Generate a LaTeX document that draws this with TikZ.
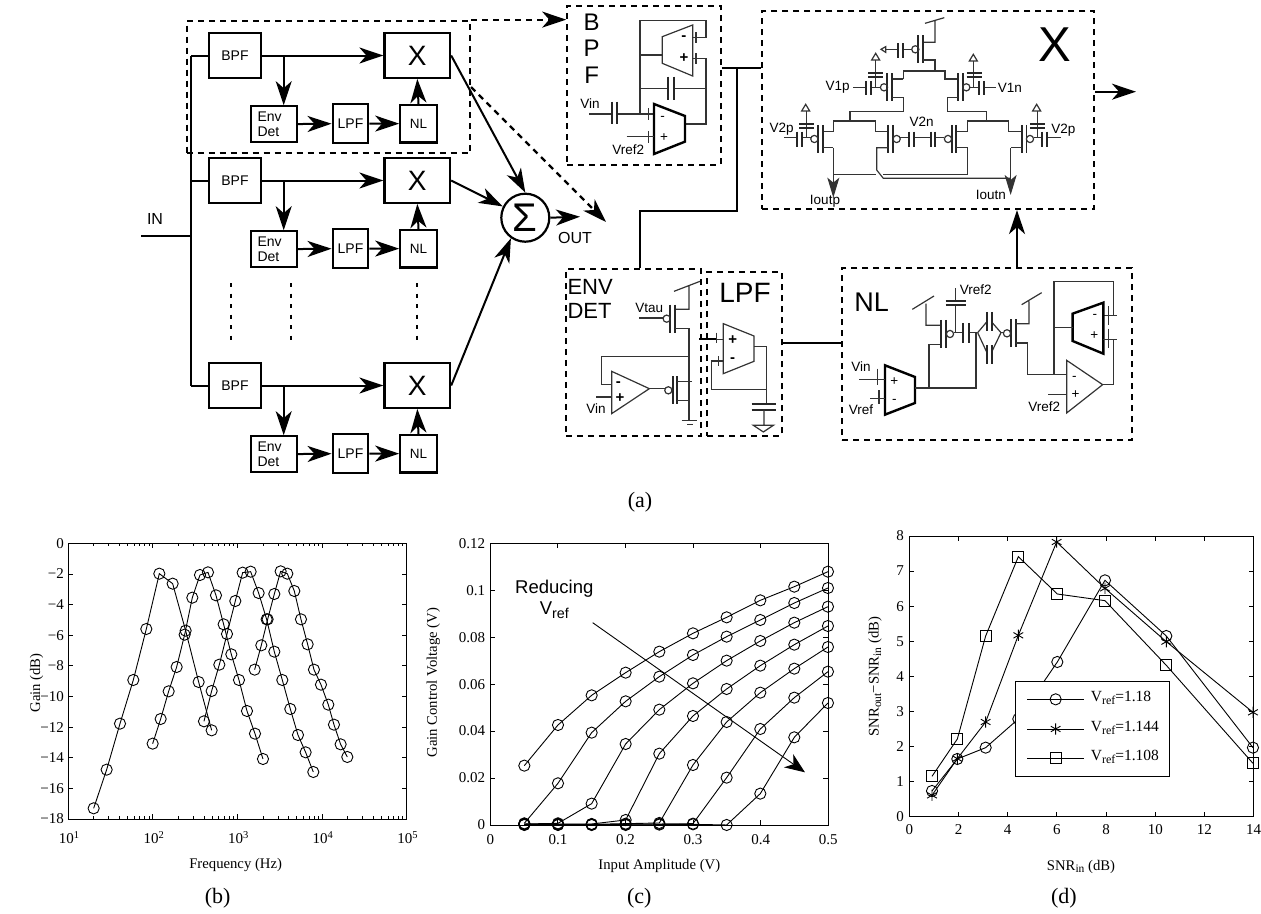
\documentclass[tikz,border=0pt]{standalone}
\usepackage{fontspec}
\setmainfont{Liberation Serif}
\setsansfont{Liberation Sans}
\usetikzlibrary{arrows.meta,plotmarks}

\newcommand{\fsz}[1]{\fontsize{#1}{1.12\dimexpr#1pt\relax}\selectfont}
\newcommand{\lowtxt}[2]{\raisebox{-0.4ex}{\fsz{#1}#2}}
\newcommand{\vcap}[4]{\draw[plate] (#1,#3) -- (#1,#4) (#2,#3) -- (#2,#4);}
\newcommand{\hcap}[4]{\draw[plate] (#3,#1) -- (#4,#1) (#3,#2) -- (#4,#2);}
\newcommand{\pfet}[4]{\draw[plate] (#1,#3-42) -- (#1,#3+42) (#2,#3-42) -- (#2,#3+42);
  \draw[cct] (#4,#3) circle[radius=3.6pt];}
\newcommand{\railtip}[2]{\draw[cct] (#1,#2) -- (#1-12,#2+20) -- (#1+12,#2+20) -- cycle;}
\newcommand{\trace}[2]{\draw[trc, mark=#1] plot coordinates {#2};}

\begin{document}
\begin{tikzpicture}[x=1pt, y=-1pt,
  rowbox/.style={draw, line width=2.3pt, inner sep=0pt, font=\sffamily\fsz{14}, align=left},
  wire/.style={line width=2pt},
  wirearr/.style={line width=2pt, -{Stealth[length=24pt,width=16pt,inset=7pt]}},
  dashbox/.style={line width=2.2pt, dash pattern=on 6pt off 5pt, inner sep=0pt},
  dasharr/.style={line width=2.2pt, dash pattern=on 6pt off 5pt, -{Stealth[length=24pt,width=16pt,inset=7pt]}},
  cct/.style={line width=1.2pt, black!80},
  plate/.style={line width=1.7pt, black!85},
  amp/.style={line width=2.4pt},
  cctarr/.style={cct, -{Stealth[length=20pt,width=12pt,inset=5pt]}},
  clbl/.style={font=\sffamily\fsz{13.5}, inner sep=0pt},
  sgn/.style={font=\sffamily\bfseries\fsz{15}, inner sep=0pt},
  bigl/.style={font=\sffamily\fsz{24}, inner sep=0pt},
  axs/.style={line width=0.9pt},
  trc/.style={line width=0.9pt, mark size=5.6pt},
  ticklbl/.style={font=\fsz{15}, inner sep=0pt},
  axlbl/.style={font=\fsz{14.7}, inner sep=0pt},
  sublbl/.style={font=\fsz{22}, inner sep=0pt}]
\useasboundingbox (0,0) rectangle (1261,913);

% block rows
\coordinate (bustop) at (191,55.5);
\coordinate (busbot) at (191,385.5);
\draw[wire] (bustop) -- (busbot);
\node[inner sep=0pt, font=\sffamily\fsz{16}] (inlbl) at (155,219) {IN};
\coordinate (instart) at (141,236);
\draw[wire] (instart) -- (instart -| bustop);
\node[draw, circle, line width=2.2pt, minimum size=48pt, inner sep=0pt, font=\sffamily\fsz{40}] (sum) at (525.3,217.7) {Σ};
\foreach \r/\dy in {a/0,b/125,c/330} {
  \node[rowbox, minimum width=52pt, minimum height=44.5pt] (bpf\r) at (235,55.5+\dy) {BPF};
  \node[rowbox, minimum width=65.5pt, minimum height=44.5pt, font=\sffamily\fsz{28}] (x\r) at (417.3,55.5+\dy) {X};
  \node[rowbox, minimum width=45.7pt, minimum height=36pt, text width=33pt] (env\r) at (274,124.3+\dy) {Env\\Det};
  \node[rowbox, minimum width=35.6pt, minimum height=39.6pt] (lpf\r) at (350.5,123.5+\dy) {LPF};
  \node[rowbox, minimum width=36.4pt, minimum height=37.3pt, font=\sffamily\fsz{13.5}] (nl\r) at (418.5,123.7+\dy) {NL};
  \coordinate (tap\r) at (283.7,55.5+\dy);
  \draw[wire] (bpf\r.west) -- (bpf\r.west -| bustop);
  \draw[wirearr] (bpf\r.east) -- (x\r.west);
  \draw[wirearr] (tap\r) -- (tap\r |- env\r.north);
  \draw[wirearr] (env\r) -- (lpf\r);
  \draw[wirearr] (lpf\r) -- (nl\r);
  \draw[wirearr] (nl\r.north) -- (x\r.south);
}
\draw[wirearr] (xa.east) -- (sum.north);
\draw[wirearr] (xb.east) -- (sum);
\draw[wirearr] (xc.east) -- (sum.-125);
\coordinate (outend) at (580,216.7);
\draw[wirearr] (sum.east) -- (outend);
\node[inner sep=0pt, font=\sffamily\fsz{16}] (outlbl) at (575,238) {OUT};
\foreach \i/\xx/\yy in {1/230.7/343,2/291/343,3/417.3/344} {
  \coordinate (dots\i) at (\xx,283);
  \draw[line width=2.2pt, dash pattern=on 4pt off 6.5pt] (dots\i) -- (\xx,\yy);
}

% dashed detail frames
\node[dashbox, draw, minimum width=283.3pt, minimum height=132.6pt] (zoomrow) at (328.3,87) {};
\node[dashbox, draw, minimum width=153.4pt, minimum height=158.7pt] (bpfbox) at (644,85.3) {};
\node[dashbox, draw, minimum width=332pt, minimum height=198pt] (xbox) at (928.3,110) {};
\node[dashbox, draw, minimum width=134.7pt, minimum height=167.3pt] (envbox) at (633.3,352.3) {};
\node[dashbox, draw, minimum width=74.4pt, minimum height=164pt] (lpfbox) at (744.5,354) {};
\node[dashbox, draw, minimum width=290pt, minimum height=172pt] (nlbox) at (987.3,354) {};
\coordinate (dashend) at (606,222);
\draw[dasharr] (zoomrow.north east) -- (zoomrow.north east -| bpfbox.west);
\draw[dasharr] (zoomrow.east) -- (dashend);

% links between frames
\coordinate (bpftap) at (737,67.7);
\coordinate (envdrop) at (640,211);
\coordinate (lpfout) at (781,343);
\coordinate (nlup) at (1017,268);
\coordinate (xout) at (1136,91.7);
\draw[wire] (bpftap -| bpfbox.east) -- (bpftap -| xbox.west);
\draw[wire] (bpftap) |- (envdrop) -- (envdrop |- envbox.north);
\draw[wire] (lpfout) -- (lpfout -| nlbox.west);
\draw[wirearr] (nlup) -- (nlup |- xbox.south);
\draw[wirearr] (xbox.east |- xout) -- (xout);

% bpf circuit
\begin{scope}[shift={(560,0)}, x=0.3333pt, y=-0.3333pt]
\node[bigl] (blb) at (95,68) {B};
\node[bigl] (plb) at (95,145) {P};
\node[bigl] (flb) at (95,225) {F};
\node[clbl] (vinb) at (90,312) {Vin};
\node[clbl] (vrefb) at (205,450) {Vref2};
\draw[cct] (88,342) -- (155,342) (172,342) -- (282,342);
\vcap{155}{172}{305}{372}
\draw[cct] (240,342) -- (240,62) -- (438,62) -- (438,113) -- (398,113);
\draw[cct] (240,165) -- (307,165);
\draw[cct] (307,110) -- (398,75) -- (398,228) -- (307,190) -- cycle;
\draw[cct] (398,175) -- (438,175) -- (438,372) -- (378,372);
\draw[cct] (408,97) -- (408,128) (408,160) -- (408,192);
\draw[cct] (240,265) -- (325,265) (342,265) -- (438,265);
\vcap{325}{342}{230}{300}
\draw[amp] (282,312) -- (375,348) -- (375,425) -- (282,462) -- cycle;
\draw[cct] (200,410) -- (282,410) (265,325) -- (265,360) (265,393) -- (265,428);
\node[sgn] (bm1) at (372,115) {-};
\node[sgn] (bp1) at (372,175) {+};
\node[clbl] (bm2) at (308,354) {-};
\node[clbl] (bp2) at (312,412) {+};
\end{scope}

% multiplier circuit
\begin{scope}[shift={(755,5)}, x=0.3333pt, y=-0.3333pt]
\node[font=\sffamily\fsz{49}, inner sep=0pt] (xlb) at (900,118) {X};
\draw[cct] (510,55) -- (568,38) (540,48) -- (540,112) -- (505,112);
\pfet{490}{505}{133}{481}
\draw[cct] (505,165) -- (540,165) -- (540,198);
\draw[cct] (470,133) -- (445,133) (430,133) -- (392,133);
\vcap{430}{445}{115}{158}
\draw[cct] (378,133) -- (392,125) -- (392,142) -- cycle;
% upper pair
\draw[cct] (445,222) -- (445,198) -- (570,198) -- (570,222) -- (610,222);
\draw[cct] (445,222) -- (412,222);
\pfet{397}{412}{247}{387}
\pfet{625}{610}{247}{634}
\draw[cct] (412,277) -- (445,277) -- (445,320) -- (285,320) -- (285,348);
\draw[cct] (610,277) -- (578,277) -- (578,320) -- (695,320) -- (695,348);
\draw[cct] (295,247) -- (333,247) (347,247) -- (376,247) (645,247) -- (673,247) (688,247) -- (722,247);
\vcap{333}{347}{228}{270}
\vcap{673}{688}{228}{270}
\draw[cct] (362,247) -- (362,165) (655,247) -- (655,168);
\hcap{204}{215}{340}{385}
\hcap{204}{215}{635}{680}
\railtip{362}{145}
\railtip{655}{148}
% lower pairs
\draw[cct] (203,380) -- (235,380) -- (235,348) -- (362,348) -- (362,380) -- (400,380);
\draw[cct] (603,380) -- (637,380) -- (637,348) -- (760,348) -- (760,380) -- (800,380);
\pfet{188}{203}{402}{178}
\pfet{415}{400}{402}{425}
\pfet{590}{603}{402}{579}
\pfet{815}{800}{402}{825}
\draw[cct] (88,398) -- (127,398) (140,398) -- (167,398);
\vcap{127}{140}{380}{425}
\draw[cct] (155,398) -- (155,318);
\hcap{356}{368}{132}{178}
\railtip{152}{298}
\draw[cct] (436,398) -- (462,398) (476,398) -- (527,398) (540,398) -- (568,398);
\vcap{462}{476}{380}{425}
\vcap{527}{540}{380}{425}
\draw[cct] (836,398) -- (862,398) (877,398) -- (917,398);
\vcap{862}{877}{380}{425}
\draw[cct] (848,398) -- (848,318);
\hcap{356}{368}{825}{870}
\railtip{845}{298}
\draw[cct] (400,428) -- (365,428) -- (365,495) -- (385,520) -- (767,520);
\draw[cct] (235,508) -- (362,508) (385,508) -- (637,508) -- (637,428) -- (603,428);
\draw[cct] (203,428) -- (235,428);
\draw[cct] (800,428) -- (767,428);
\draw[cctarr] (235,428) -- (235,578);
\draw[cctarr] (767,428) -- (767,570);
\node[clbl] (v1p) at (248,248) {V1p};
\node[clbl] (v1n) at (765,250) {V1n};
\node[clbl] (v2pa) at (80,372) {V2p};
\node[clbl] (v2pb) at (925,375) {V2p};
\node[clbl] (v2n) at (500,350) {V2n};
\node[clbl] (ioutp) at (210,588) {Ioutp};
\node[clbl] (ioutn) at (708,570) {Ioutn};
\end{scope}

% env det and lpf circuits
\begin{scope}[shift={(560,262)}, x=0.3333pt, y=-0.3333pt]
\node[font=\sffamily\fsz{22}, inner sep=0pt, anchor=west] (envlb) at (22,75) {ENV};
\node[font=\sffamily\fsz{22}, inner sep=0pt, anchor=west] (detlb) at (22,148) {DET};
\node[font=\sffamily\fsz{28}, inner sep=0pt] (lpflb) at (555,92) {LPF};
\draw[cct] (342,88) -- (420,58) (387,72) -- (387,142) -- (345,142);
\pfet{330}{345}{170}{320}
\draw[cct] (238,168) -- (309,168);
\node[clbl] (vtau) at (268,138) {Vtau};
\draw[cct] (345,200) -- (387,200) -- (387,475);
\draw[cct] (387,283) -- (125,283) -- (125,368) -- (155,368);
\draw[cct] (155,328) -- (268,380) -- (155,455) -- cycle;
\node[sgn] (em) at (175,365) {-};
\node[sgn] (ep) at (180,408) {+};
\draw[cct] (108,405) -- (155,405);
\node[clbl] (vine) at (108,440) {Vin};
\draw[cct] (268,380) -- (314,380);
\pfet{338}{352}{385}{325}
\draw[cct] (352,358) -- (395,358) (352,415) -- (387,415);
\draw[cct] (365,475) -- (412,475) (382,488) -- (398,488);
\draw[wire] (418,232) -- (470,232);
\draw[cct] (470,232) -- (490,232) (470,212) -- (470,242) (475,283) -- (475,312);
\draw[cct] (490,185) -- (582,222) -- (582,298) -- (490,335) -- cycle;
\node[sgn] (lp) at (518,235) {+};
\node[sgn] (lm) at (518,295) {-};
\draw[cct] (490,297) -- (455,297) -- (455,383) -- (622,383);
\draw[cct] (582,254) -- (620,254) -- (620,427);
\hcap{427}{443}{575}{648}
\draw[cct] (612,443) -- (612,490) (580,490) -- (640,490) -- (610,510) -- cycle;
\end{scope}

% nl circuit
\begin{scope}[shift={(835,262)}, x=0.3333pt, y=-0.3333pt]
\node[font=\sffamily\fsz{27}, inner sep=0pt] (nllb) at (110,122) {NL};
\draw[amp] (150,310) -- (240,345) -- (240,423) -- (150,458) -- cycle;
\node[clbl] (vinn) at (78,315) {Vin};
\node[clbl] (vrefn) at (78,442) {Vref};
\node[clbl] (nplus) at (178,358) {+};
\node[clbl] (nminus) at (178,418) {-};
\draw[cct] (72,352) -- (150,352) (128,320) -- (128,370) (105,410) -- (150,410) (132,385) -- (132,425);
\draw[cct] (240,378) -- (423,378) -- (423,212) -- (402,212);
\draw[cct] (282,378) -- (282,248) -- (318,248);
\draw[cct] (232,142) -- (297,102) (273,125) -- (273,190) -- (318,190);
\pfet{333}{318}{216}{345}
\draw[cct] (356,212) -- (385,212);
\vcap{385}{402}{183}{242}
\draw[cct] (362,212) -- (362,130) (362,118) -- (362,78);
\hcap{118}{130}{332}{392}
\node[clbl] (vrefa) at (422,82) {Vref2};
\draw[cct] (428,212) -- (455,180) (470,180) -- (498,212) -- (470,270) (455,270) -- (428,212);
\vcap{455}{470}{150}{207}
\vcap{455}{470}{250}{305}
\draw[cct] (498,212) -- (505,212);
\pfet{528}{543}{214}{516}
\draw[cct] (560,128) -- (620,92) (582,118) -- (582,185) -- (543,185);
\draw[cct] (543,243) -- (578,243) -- (578,338) -- (695,338);
\draw[cct] (657,338) -- (657,58) -- (835,58) -- (835,160) -- (803,160);
\draw[amp] (713,155) -- (805,122) -- (805,275) -- (713,237) -- cycle;
\node[clbl] (nm2) at (780,162) {-};
\node[clbl] (np2) at (778,222) {+};
\draw[cct] (820,133) -- (820,188) (820,200) -- (820,258) (835,160) -- (845,160) (803,232) -- (845,232);
\draw[cct] (835,232) -- (835,368) -- (803,368);
\draw[cct] (713,197) -- (657,197);
\draw[cct] (695,295) -- (803,368) -- (695,453) -- cycle;
\node[clbl] (nm3) at (718,350) {-};
\node[clbl] (np3) at (722,397) {+};
\draw[cct] (640,397) -- (695,397);
\node[clbl] (vrefc) at (628,433) {Vref2};
\end{scope}

\node[sublbl] (suba) at (640,502) {(a)};

% gain plot
\begin{scope}[shift={(20,520)}, x=0.3333pt, y=-0.3333pt]
\draw[axs] (145,70) rectangle (1160,897);
\foreach \v in {0,-2,...,-18} {
  \pgfmathsetmacro\yy{70-\v*45.94}
  \pgfmathtruncatemacro\av{abs(\v)}
  \draw[axs] (145,\yy) -- (160,\yy) (1160,\yy) -- (1145,\yy);
  \node[ticklbl, anchor=east] (gainy\av) at (132,\yy) {\ifnum\av>0 −\fi\av};
}
\foreach \d in {1,...,5} {
  \pgfmathsetmacro\xx{145+(\d-1)*253.75}
  \draw[axs] (\xx,897) -- (\xx,882) (\xx,70) -- (\xx,85);
  \node[ticklbl] (gainx\d) at (\xx+3,952) {10\textsuperscript{\d}};
}
\foreach \d in {0,...,3} \foreach \k in {2,...,9} {
  \pgfmathsetmacro\xx{145+(\d+log10(\k))*253.75}
  \draw[line width=0.6pt] (\xx,897) -- (\xx,889) (\xx,70) -- (\xx,78);
}
\node[axlbl] (gainxl) at (647,1035) {Frequency (Hz)};
\node[axlbl, rotate=90] (gainyl) at (50,489) {Gain (dB)};
\trace{o}{(221,865)(260,749)(300,611)(340,480)(379,327)(418,161)(458,191)(497,332)(536,486)(575,631)}
\trace{o}{(398,671)(422,597)(446,514)(470,441)(494,344)(517,233)(540,165)(564,157)(588,226)(611,313)(634,403)(657,480)(681,573)(705,641)(729,717)}
\trace{o}{(552,604)(575,513)(598,434)(621,342)(646,243)(668,158)(692,155)(716,219)(740,298)(763,395)(787,480)(811,567)(834,645)(857,697)(880,756)}
\trace{o}{(704,449)(724,376)(743,298)(763,222)(782,154)(802,161)(823,213)(843,298)(863,373)(882,449)(903,494)(925,554)(942,614)(962,673)(982,711)}
\node[sublbl] (subb) at (593,1135) {(b)};
\end{scope}

% gain control plot
\begin{scope}[shift={(430,520)}, x=0.3333pt, y=-0.3333pt]
\draw[axs] (181,70) rectangle (1195,915);
\foreach \i/\lab in {0/0,1/0.02,2/0.04,3/0.06,4/0.08,5/0.1,6/0.12} {
  \pgfmathsetmacro\yy{915-\i*140.83}
  \draw[axs] (181,\yy) -- (196,\yy) (1195,\yy) -- (1180,\yy);
  \node[ticklbl, anchor=east] (ctly\i) at (166,\yy) {\lab};
}
\foreach \i/\lab in {0/0,1/0.1,2/0.2,3/0.3,4/0.4,5/0.5} {
  \pgfmathsetmacro\xx{181+\i*202.8}
  \draw[axs] (\xx,915) -- (\xx,900) (\xx,70) -- (\xx,85);
  \node[ticklbl] (ctlx\i) at (\xx,958) {\lab};
}
\node[axlbl] (ctlxl) at (688,1037) {Input Amplitude (V)};
\node[axlbl, rotate=90] (ctlyl) at (10,488) {Gain Control Voltage (V)};
\trace{o}{(283,737)(384,615)(485,526)(587,458)(688,395)(789,340)(890,292)(991,241)(1093,200)(1194,155)}
\trace{o}{(283,910)(384,790)(485,638)(587,544)(688,470)(789,405)(890,350)(991,300)(1093,249)(1194,204)}
\trace{o}{(283,912)(384,910)(485,851)(587,672)(688,569)(789,490)(890,422)(991,363)(1093,308)(1194,260)}
\trace{o}{(283,912)(384,912)(485,912)(587,900)(688,701)(789,588)(890,507)(991,437)(1093,374)(1194,318)}
\trace{o}{(283,913)(384,913)(485,913)(587,911)(688,909)(789,735)(890,606)(991,518)(1093,446)(1194,381)}
\trace{o}{(283,914)(384,914)(485,914)(587,913)(688,912)(789,911)(890,773)(991,627)(1093,533)(1194,455)}
\trace{o}{(283,915)(384,915)(485,915)(587,915)(688,914)(789,913)(890,915)(991,821)(1093,652)(1194,549)}
\node[font=\sffamily\fsz{18.5}, inner sep=0pt, align=center] (redlb) at (373,238) {Reducing\\V\lowtxt{14.3}{ref}};
\coordinate (redstart) at (488,308);
\coordinate (redend) at (1125,757);
\draw[axs, -{Stealth[length=20pt,width=16pt,inset=6pt]}] (redstart) -- (redend);
\node[sublbl] (subc) at (628,1135) {(c)};
\end{scope}

% snr plot
\begin{scope}[shift={(850,520)}, x=0.3333pt, y=-0.3333pt]
\draw[axs] (178,48) rectangle (1211,890);
\foreach \v in {0,...,8} {
  \pgfmathsetmacro\yy{890-\v*105.25}
  \draw[axs] (178,\yy) -- (193,\yy) (1211,\yy) -- (1196,\yy);
  \node[ticklbl, anchor=east] (snry\v) at (162,\yy) {\v};
}
\foreach \v in {0,2,...,14} {
  \pgfmathsetmacro\xx{178+\v*73.79}
  \draw[axs] (\xx,890) -- (\xx,875) (\xx,48) -- (\xx,63);
  \node[ticklbl] (snrx\v) at (\xx,930) {\v};
}
\node[axlbl] (snrxl) at (693,1040) {SNR\lowtxt{11.5}{in} (dB)};
\node[axlbl, rotate=90] (snryl) at (75,470) {SNR\lowtxt{11.5}{out}−SNR\lowtxt{11.5}{in} (dB)};
\trace{o}{(246,813)(322,717)(407,683)(505,597)(622,426)(765,181)(949,348)(1209,683)}
\trace{asterisk}{(246,826)(322,716)(407,606)(505,346)(620,66)(765,205)(949,365)(1209,577)}
\trace{square}{(246,769)(322,657)(407,348)(505,110)(622,222)(765,242)(949,436)(1209,730)}
\draw[axs, fill=white] (497,484) rectangle (958,768);
\foreach \m/\yy/\lab in {o/538/1.18,asterisk/627/1.144,square/715/1.108} {
  \coordinate (legl\m) at (532,\yy);
  \coordinate (legr\m) at (702,\yy);
  \draw[line width=0.9pt] (legl\m) -- (legr\m);
  \trace{\m}{(617,\yy)}
  \node[font=\fsz{15.5}, inner sep=0pt, anchor=west] (leg\m) at (722,\yy-3) {V\lowtxt{12}{ref}=\lab};
}
\node[sublbl] (subd) at (642,1135) {(d)};
\end{scope}
\end{tikzpicture}
\end{document}
